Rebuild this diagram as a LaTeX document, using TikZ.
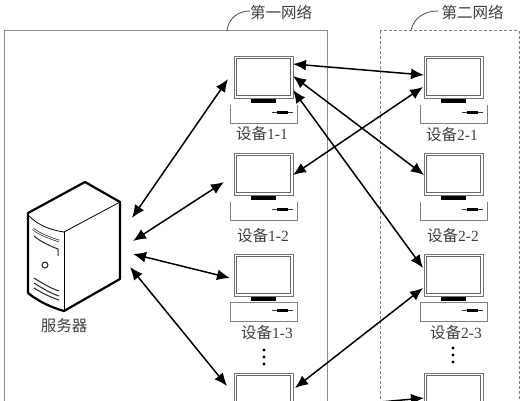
\documentclass[tikz,border=0pt]{standalone}
\usepackage{fontspec}
\setmainfont{Liberation Serif}
\newfontfamily\cjk{Noto Sans CJK SC}
\usetikzlibrary{arrows.meta}
\tikzset{
  monitor/.style={draw=black!55,line width=.9pt,fill=white,
    minimum width=59pt,minimum height=42pt,inner sep=0pt,outer sep=0pt,anchor=north west},
  screen/.style={draw=black!60,line width=.9pt,fill=white},
  stand/.style={fill=black,draw=none},
  baseline/.style={draw=black!50,line width=.8pt},
  plug/.style={line width=1pt,black!80},
  plugbody/.style={line width=3pt,black},
  lbl/.style={text=black!75,font=\fontsize{15.5}{15.5}\selectfont,inner sep=0pt},
  netbox/.style={draw=black!45,line width=.8pt},
  netdash/.style={draw=black!50,line width=.7pt,dashed,dash pattern=on 3pt off 2pt},
  leader/.style={draw=black!70,line width=.8pt},
  link/.style={{Latex[length=13pt,width=11pt]}-{Latex[length=13pt,width=11pt]},line width=1.5pt,black},
  srv/.style={line width=2.2pt,black,line join=round},
  srvthin/.style={line width=.8pt,black},
  srvmid/.style={line width=1pt,black!85},
  dot/.style={circle,fill=black,inner sep=0pt,minimum size=3.4pt}
}
% name, x, y (top left of the monitor)
\newcommand{\monitorunit}[3]{%
  \node[monitor] (#1) at (#2,#3) {};
  \draw[screen] (#2+2.5,#3+2.5) rectangle (#2+56.5,#3+39.5);
  \fill[stand] (#2+17,#3+43) rectangle (#2+42,#3+47);
  \draw[plug] (#2+38,#3+56) -- (#2+59,#3+56);
  \draw[plugbody] (#2+43,#3+56) -- (#2+54,#3+56);
}
\newcommand{\openbase}[2]{\draw[baseline] (#1-4,#2+49) -- (#1-4,#2+67) -- (#1+63,#2+67) -- (#1+63,#2+49);}
\newcommand{\closedbase}[2]{\draw[baseline] (#1-4,#2+48) rectangle (#1+63,#2+67);}
\begin{document}
\begin{tikzpicture}[x=1pt,y=-1pt]
\clip (0,0) rectangle (524,400);
\fill[white] (0,0) rectangle (524,400);
% networks
\draw[netbox] (4,30.5) rectangle (327,420);
\draw[netdash] (380,30.5) rectangle (519,420);
\coordinate (n1a) at (227,30);
\coordinate (n1b) at (250,11);
\coordinate (n2a) at (411,30);
\coordinate (n2b) at (438,11);
\draw[leader] (n1a) .. controls (229,18) and (238,11) .. (n1b);
\draw[leader] (n2a) .. controls (414,18) and (424,11) .. (n2b);
\node[lbl] (t1) at (281,13) {{\cjk 第一网络}};
\node[lbl] (t2) at (472.5,13) {{\cjk 第二网络}};
% devices
\monitorunit{m11}{234}{56}\openbase{234}{56}
\monitorunit{m12}{234}{153}\openbase{234}{153}
\monitorunit{m13}{234}{254}\closedbase{234}{254}
\monitorunit{m14}{234}{373}
\monitorunit{m21}{424}{56}\openbase{424}{56}
\monitorunit{m22}{424}{153}\openbase{424}{153}
\monitorunit{m23}{424}{254}\closedbase{424}{254}
\monitorunit{m24}{424}{373}
\node[lbl] (l11) at (262,134) {{\cjk 设备}1-1};
\node[lbl] (l12) at (263,236) {{\cjk 设备}1-2};
\node[lbl] (l13) at (267,333) {{\cjk 设备}1-3};
\node[lbl] (l21) at (452,135) {{\cjk 设备}2-1};
\node[lbl] (l22) at (453,236) {{\cjk 设备}2-2};
\node[lbl] (l23) at (456,333) {{\cjk 设备}2-3};
\node[dot] (d1) at (264,350) {};
\node[dot] (d2) at (264,357) {};
\node[dot] (d3) at (264,364) {};
\node[dot] (d4) at (453,348) {};
\node[dot] (d5) at (453,355) {};
\node[dot] (d6) at (453,362) {};
% server
\draw[srv,fill=white] (28,213) -- (85,182) -- (120,202) -- (120,279) -- (64,311)
  .. controls (50,307) and (38,301) .. (28,293) -- cycle;
\draw[srvthin] (64,232) -- (120,202);
\draw[srvthin] (64,232) -- (64,310);
\draw[srvthin] (29,216) .. controls (38,225) and (50,230) .. (64,232);
\draw[line width=2.4pt,black!80] (33,229) .. controls (41,235) and (50,238) .. (59,241);
\draw[line width=.9pt,white] (33,229) .. controls (41,235) and (50,238) .. (59,241);
\draw[srvmid] (34,236) .. controls (41,242) and (50,246) .. (58,249) -- (58,256);
\draw[srvmid] (45,265) circle (3pt);
\draw[srvmid] (34,278) .. controls (42,283) and (50,288) .. (59,291);
\draw[srvmid] (34,283) .. controls (42,288) and (50,293) .. (59,296);
\draw[srvmid] (34,288) .. controls (42,293) and (50,297) .. (59,300);
\node[lbl] (srvlabel) at (64,326) {{\cjk 服务器}};
\coordinate (s1) at (132,218);
\coordinate (s2) at (133,241);
\coordinate (s3) at (133,254);
\coordinate (s4) at (130,267);
% links to the server
\draw[link] (s1) -- ([shift={(-6,23)}]m11.north west);
\draw[link] (s2) -- ([shift={(-10,29)}]m12.north west);
\draw[link] (s3) -- ([shift={(-4,24)}]m13.north west);
\draw[link] (s4) -- ([shift={(-7,13)}]m14.north west);
% links between the networks
\draw[link] ([shift={(0,8)}]m11.north east) -- ([shift={(0,19)}]m21.north west);
\draw[link] ([shift={(0,20)}]m11.north east) -- ([shift={(0,22)}]m22.north west);
\draw[link] ([shift={(0,34)}]m11.north east) -- ([shift={(-1,14)}]m23.north west);
\draw[link] ([shift={(-1,31)}]m21.north west) -- ([shift={(0,22)}]m12.north east);
\draw[link] ([shift={(-1,34)}]m23.north west) -- ([shift={(2,15)}]m14.north east);
\draw[link] ([shift={(0,37)}]m14.north east) -- ([shift={(0,25)}]m24.north west);
\end{tikzpicture}
\end{document}
